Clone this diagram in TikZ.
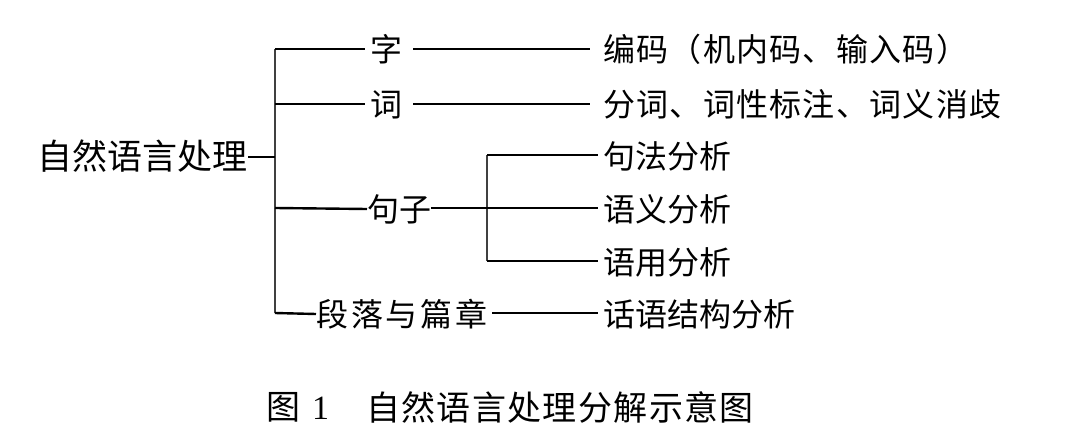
\documentclass[tikz,border=0pt]{standalone}
\usepackage{fontspec}
\newfontfamily\cjk{Noto Sans CJK SC}
\newfontfamily\cjkwide[LetterSpace=4]{Noto Sans CJK SC}
\newfontfamily\cjkwider[LetterSpace=9]{Noto Sans CJK SC}
\newfontfamily\latinserif{Liberation Serif}
\begin{document}
\begin{tikzpicture}[x=1pt,y=-1pt,
  lbl/.style={inner sep=0pt, font=\cjk\fontsize{32}{36}\selectfont, text height=28pt, text depth=4pt},
  widelbl/.style={lbl, font=\cjkwide\fontsize{32}{36}\selectfont},
  widerlbl/.style={lbl, font=\cjkwider\fontsize{32}{36}\selectfont},
  rootlbl/.style={lbl, font=\cjk\fontsize{35}{39}\selectfont},
  captext/.style={inner sep=0pt, font=\cjkwide\fontsize{34}{38}\selectfont, anchor=west},
  conn/.style={line width=2.4pt, black},
  bus/.style={line width=1.8pt, black!75}]
\useasboundingbox (0,0) rectangle (1080,444);
\fill[white] (0,0) rectangle (1080,444);
% nodes
\node[rootlbl, anchor=east] (root) at (248,157) {自然语言处理};
\node[lbl, anchor=center] (zi) at (386,50) {字};
\node[lbl, anchor=center] (ci) at (386,105) {词};
\node[lbl, anchor=west] (juzi) at (367,209) {句子};
\node[widerlbl, anchor=west] (duan) at (316,314) {段落与篇章};
\node[widelbl, anchor=west] (bm) at (603,50) {编码（机内码、输入码）};
\node[widelbl, anchor=west] (fc) at (603,105) {分词、词性标注、词义消歧};
\node[lbl, anchor=west] (jf) at (603,156) {句法分析};
\node[lbl, anchor=west] (yy) at (603,209) {语义分析};
\node[lbl, anchor=west] (yong) at (603,262) {语用分析};
\node[lbl, anchor=west] (hy) at (603,314) {话语结构分析};
% junction coordinates
\coordinate (b0) at (275,157);
\coordinate (b1) at (275,49);
\coordinate (b2) at (275,104);
\coordinate (b3) at (275,208);
\coordinate (b4) at (275,313);
\coordinate (zil) at (365,49);
\coordinate (zir) at (413,49);
\coordinate (cil) at (365,104);
\coordinate (cir) at (413,104);
\coordinate (bmw) at (590,49);
\coordinate (fcw) at (590,104);
\coordinate (s1) at (487,155);
\coordinate (s3) at (487,261);
\coordinate (jfw) at (598,155);
\coordinate (yyw) at (598,208);
\coordinate (yongw) at (598,261);
\coordinate (hyw) at (598,313);
\coordinate (juzie) at (431,208);
\coordinate (duane) at (492,313);
% bus
\draw[bus] (b1) -- (b4);
\draw[bus] (s1) -- (s3);
% connectors
\draw[conn] (root.east) -- (b0);
\draw[conn] (b1) -- (zil);
\draw[conn] (zir) -- (bmw);
\draw[conn] (b2) -- (cil);
\draw[conn] (cir) -- (fcw);
\draw[conn] (b3) -- (juzi.west);
\draw[conn] (juzie) -- (yyw);
\draw[conn] (s1) -- (jfw);
\draw[conn] (s3) -- (yongw);
\draw[conn] (b4) -- (duan.west);
\draw[conn] (duane) -- (hyw);
% caption
\node[captext] (capnum) at (266,407) {图\hspace{0.35em}{\latinserif 1}};
\node[captext] (captitle) at (366,407) {自然语言处理分解示意图};
\end{tikzpicture}
\end{document}
